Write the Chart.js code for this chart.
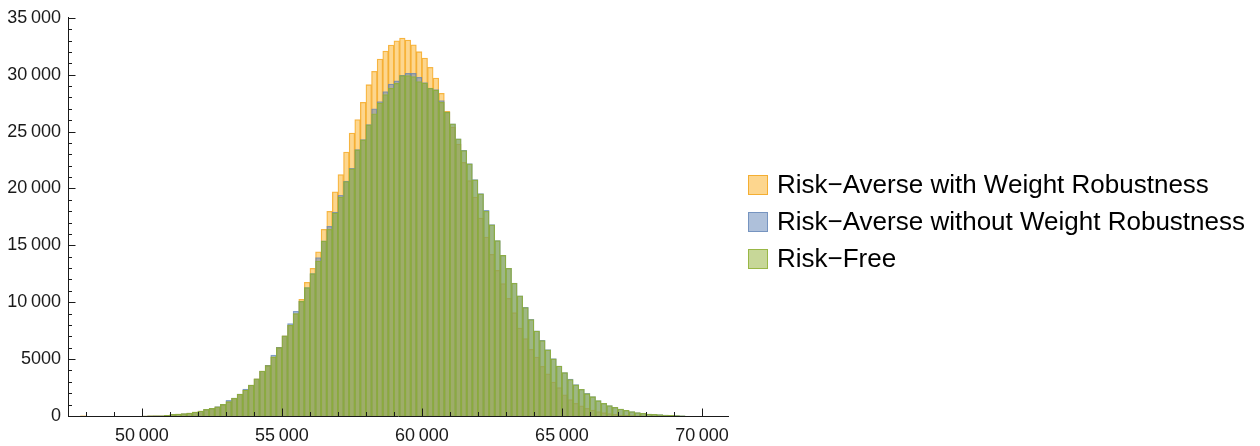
<!DOCTYPE html>
<html>
<head>
<meta charset="utf-8">
<title>Histogram</title>
<script src="https://cdn.jsdelivr.net/npm/chart.js@4.4.1/dist/chart.umd.min.js"></script>
<style>
  body { margin: 0; background: #fff; }
  #wrap { position: relative; width: 1260px; height: 446px; }
  #legend {
    position: absolute; left: 748px; top: 166px;
    font: 26px "Liberation Sans", Arial, sans-serif; color: #000;
  }
  .item { display: flex; align-items: center; height: 37px; white-space: nowrap; }
  .swatch { width: 18px; height: 18px; margin-right: 9px; border: 1px solid; }
</style>
</head>
<body>
<div id="wrap">
  <canvas id="hist" width="1260" height="446"></canvas>
  <div id="legend"></div>
</div>
<script>
// histogram bins: 200 wide, first bin starts at 47 800
const firstBin = 47800
const binWidth = 200

const withRobustness = [
  20, 0, 0, 0, 0, 0, 0, 0, 0, 0, 0,
  3, 6, 12, 25, 55,
  130, 170, 200, 255, 340,
  430, 570, 660, 800, 1000,
  1260, 1560, 1910, 2270, 2720,
  3260, 3940, 4450, 5200, 6030,
  7050, 7980, 9000, 10260, 11750,
  12980, 14440, 16400, 17980, 19710,
  21230, 23190, 24870, 26050, 27570,
  29120, 30290, 31370, 32080, 32600,
  32980, 33220, 33040, 32630, 32020,
  31470, 30640, 29710, 28360, 26780,
  25400, 23900, 22300, 20700, 19240,
  17400, 15730, 14210, 12810, 11640,
  10350, 9080, 7720, 6810, 5850,
  5170, 4360, 3710, 2980, 2500,
  1870, 1450, 1110, 900, 670,
  520, 380, 290, 220, 150,
  90, 60, 40, 25, 15,
  8, 4, 2, 1, 0,
  0, 0
]

const withoutRobustness = [
  0, 0, 0, 0, 0, 0, 0, 0, 0, 0, 0,
  3, 6, 12, 25, 60,
  146, 175, 205, 263, 351,
  439, 585, 673, 819, 1023,
  1374, 1579, 1930, 2368, 2719,
  3275, 3947, 4444, 5351, 6026,
  7044, 8130, 9210, 10090, 11290,
  12520, 13920, 15400, 16670, 17920,
  19390, 20640, 21760, 23420, 24300,
  25620, 26990, 27630, 28510, 29180,
  29470, 29950, 30120, 30120, 29770,
  29300, 28830, 28680, 27720, 26720,
  25690, 24370, 23350, 22180, 20780,
  19550, 18070, 16830, 15420, 14130,
  12980, 11680, 10560, 9550, 8490,
  7480, 6650, 5830, 5040, 4390,
  3820, 3246, 2760, 2340, 1988,
  1700, 1350, 1110, 906, 760,
  614, 497, 380, 292, 234,
  175, 146, 117, 88, 60,
  30, 15
]

const riskFree = [
  0, 0, 0, 0, 0, 0, 0, 0, 0, 0, 0,
  3, 6, 12, 25, 58,
  140, 172, 205, 260, 350,
  435, 580, 670, 815, 1020,
  1257, 1570, 1925, 2281, 2710,
  3265, 3940, 4440, 5205, 6020,
  7040, 7982, 9006, 10088, 11287,
  12515, 13626, 15380, 16404, 17836,
  19240, 20614, 21725, 23392, 24269,
  25585, 26550, 27515, 28246, 28801,
  29240, 29912, 29912, 29825, 29386,
  29269, 28801, 28655, 27570, 26693,
  25675, 24357, 23333, 22164, 20760,
  19532, 17986, 16813, 15410, 14123,
  12970, 11660, 10556, 9540, 8480,
  7470, 6630, 5820, 5030, 4386,
  3815, 3200, 2749, 2339, 1960,
  1696, 1345, 1111, 906, 760,
  614, 497, 380, 292, 234,
  175, 146, 117, 88, 60,
  30, 15
]

const seriesNames = [
  'Risk\u2212Averse with Weight Robustness',
  'Risk\u2212Averse without Weight Robustness',
  'Risk\u2212Free',
]

const xTicks = [50000, 55000, 60000, 65000, 70000]
const yTicks = [0, 5000, 10000, 15000, 20000, 25000, 30000, 35000]

const binCenters = withRobustness.map((_, i) => firstBin + binWidth * (i + 0.5))
const toPoints = (counts) => counts.map((c, i) => ({ x: binCenters[i], y: c }))

// 35000 -> "35 000", 5000 stays "5000"
function fmt(v) {
  const s = String(v)
  return v >= 10000 ? s.slice(0, -3) + '\u2009' + s.slice(-3) : s
}

// inward tick marks, minor every 1000
const tickMarks = {
  id: 'tickMarks',
  afterDraw(chart) {
    const { ctx, chartArea, scales } = chart
    ctx.save()
    ctx.strokeStyle = '#1a1a1a'
    ctx.lineWidth = 1
    ctx.beginPath()
    for (let v = 48000; v <= 70000; v += 1000) {
      const x = Math.round(scales.x.getPixelForValue(v)) + 0.5
      const len = v % 5000 === 0 ? 7.5 : 4
      ctx.moveTo(x, chartArea.bottom)
      ctx.lineTo(x, chartArea.bottom - len)
    }
    for (let v = 0; v <= 35000; v += 1000) {
      const y = Math.round(scales.y.getPixelForValue(v)) + 0.5
      const len = v % 5000 === 0 ? 7.5 : 4
      ctx.moveTo(chartArea.left, y)
      ctx.lineTo(chartArea.left + len, y)
    }
    ctx.stroke()
    ctx.restore()
  },
}

Chart.defaults.font.family = '"Liberation Sans", Arial, sans-serif'
Chart.defaults.color = '#1a1a1a'

const ctx = document.getElementById('hist').getContext('2d')
const chart = new Chart(ctx, {
  type: 'bar',
  data: {
    datasets: [
      {
        label: seriesNames[0],
        data: toPoints(withRobustness),
        backgroundColor: 'rgba(252, 173, 30, 0.5)',
        borderColor: 'rgba(242, 160, 20, 0.75)',
        order: 3,
      },
      {
        label: seriesNames[1],
        data: toPoints(withoutRobustness),
        backgroundColor: 'rgba(94, 129, 181, 0.5)',
        borderColor: 'rgba(94, 129, 181, 0.7)',
        order: 2,
      },
      {
        label: seriesNames[2],
        data: toPoints(riskFree),
        backgroundColor: 'rgba(143, 176, 50, 0.5)',
        borderColor: 'rgba(143, 176, 50, 0.8)',
        order: 1,
      },
    ],
  },
  options: {
    responsive: false,
    animation: false,
    layout: { padding: { top: 17, right: 532, left: 0, bottom: 0 } },
    datasets: {
      bar: {
        grouped: false,
        barPercentage: 1,
        categoryPercentage: 1,
        borderWidth: 0.6,
      },
    },
    plugins: {
      legend: { display: false },
      tooltip: { enabled: false },
    },
    scales: {
      x: {
        type: 'linear',
        offset: false,
        min: 47360,
        max: 70930,
        z: 1,
        grid: { display: false, drawTicks: false, offset: false },
        border: { display: true, color: '#1a1a1a', width: 1 },
        afterBuildTicks: (axis) => { axis.ticks = xTicks.map((v) => ({ value: v })) },
        afterFit: (axis) => { axis.height = 30 },
        ticks: {
          autoSkip: false,
          maxRotation: 0,
          padding: 9,
          font: { size: 18 },
          callback: (v) => fmt(v),
        },
      },
      y: {
        min: 0,
        max: 35000,
        z: 1,
        grid: { display: false, drawTicks: false },
        border: { display: true, color: '#1a1a1a', width: 1 },
        afterBuildTicks: (axis) => { axis.ticks = yTicks.map((v) => ({ value: v })) },
        afterFit: (axis) => { axis.width = 68 },
        ticks: {
          autoSkip: false,
          padding: 7,
          font: { size: 18 },
          callback: (v) => fmt(v),
        },
      },
    },
  },
  plugins: [tickMarks],
})

// legend as html, in dataset order
const legendEl = document.getElementById('legend')
chart.data.datasets.forEach((ds) => {
  const item = document.createElement('div')
  item.className = 'item'
  const box = document.createElement('span')
  box.className = 'swatch'
  box.style.background = ds.backgroundColor
  box.style.borderColor = ds.borderColor
  item.appendChild(box)
  item.appendChild(document.createTextNode(ds.label))
  legendEl.appendChild(item)
})
</script>
</body>
</html>
